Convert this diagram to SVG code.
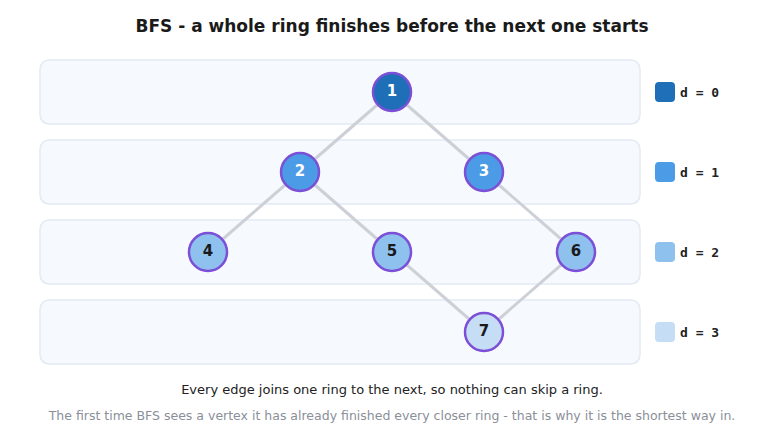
<svg xmlns="http://www.w3.org/2000/svg" width="784" height="440" viewBox="0 0 784 440">
<style>
.band{fill:#f6f9fd;stroke:#e3eaf3;stroke-width:1.5}
.e{stroke:#cdd0d6;stroke-width:3;fill:none}
.n{stroke:#7b4fd6;stroke-width:2.5}
.lbl{font-family:"DejaVu Sans",sans-serif;font-weight:bold;font-size:15px;text-anchor:middle;dominant-baseline:central}
.leg{font-family:"DejaVu Sans Mono",monospace;font-weight:bold;font-size:13px;fill:#222;dominant-baseline:central}
</style>
<rect width="784" height="440" fill="#fff"/>
<text x="392" y="26" font-family="DejaVu Sans,sans-serif" font-weight="bold" font-size="17" fill="#1a1a1a" text-anchor="middle" dominant-baseline="central">BFS  -  a whole ring finishes before the next one starts</text>
<g id="bands">
<rect class="band" x="40" y="60" width="600" height="64" rx="9"/>
<rect class="band" x="40" y="140" width="600" height="64" rx="9"/>
<rect class="band" x="40" y="220" width="600" height="64" rx="9"/>
<rect class="band" x="40" y="300" width="600" height="64" rx="9"/>
</g>
<g id="connectors">
<line class="e" x1="392" y1="92" x2="300" y2="172"/>
<line class="e" x1="392" y1="92" x2="484" y2="172"/>
<line class="e" x1="300" y1="172" x2="208" y2="252"/>
<line class="e" x1="300" y1="172" x2="392" y2="252"/>
<line class="e" x1="484" y1="172" x2="576" y2="252"/>
<line class="e" x1="392" y1="252" x2="484" y2="332"/>
<line class="e" x1="576" y1="252" x2="484" y2="332"/>
</g>
<g id="n1"><circle class="n" cx="392" cy="92" r="19" fill="#1f6fb8"/><text class="lbl" x="392" y="91" fill="#fff">1</text></g>
<g id="n2"><circle class="n" cx="300" cy="172" r="19" fill="#4c9be6"/><text class="lbl" x="300" y="171" fill="#fff">2</text></g>
<g id="n3"><circle class="n" cx="484" cy="172" r="19" fill="#4c9be6"/><text class="lbl" x="484" y="171" fill="#fff">3</text></g>
<g id="n4"><circle class="n" cx="208" cy="252" r="19" fill="#8fc1ef"/><text class="lbl" x="208" y="251" fill="#1a1a1a">4</text></g>
<g id="n5"><circle class="n" cx="392" cy="252" r="19" fill="#8fc1ef"/><text class="lbl" x="392" y="251" fill="#1a1a1a">5</text></g>
<g id="n6"><circle class="n" cx="576" cy="252" r="19" fill="#8fc1ef"/><text class="lbl" x="576" y="251" fill="#1a1a1a">6</text></g>
<g id="n7"><circle class="n" cx="484" cy="332" r="19" fill="#c5def6"/><text class="lbl" x="484" y="331" fill="#1a1a1a">7</text></g>
<g id="legend">
<rect x="655" y="82" width="20" height="20" rx="4" fill="#1f6fb8"/><text class="leg" x="680" y="92">d = 0</text>
<rect x="655" y="162" width="20" height="20" rx="4" fill="#4c9be6"/><text class="leg" x="680" y="172">d = 1</text>
<rect x="655" y="242" width="20" height="20" rx="4" fill="#8fc1ef"/><text class="leg" x="680" y="252">d = 2</text>
<rect x="655" y="322" width="20" height="20" rx="4" fill="#c5def6"/><text class="leg" x="680" y="332">d = 3</text>
</g>
<text x="392" y="389" font-family="DejaVu Sans,sans-serif" font-size="13" fill="#222" text-anchor="middle" dominant-baseline="central">Every edge joins one ring to the next, so nothing can skip a ring.</text>
<text x="392" y="415" font-family="DejaVu Sans,sans-serif" font-size="12.5" fill="#8a8f99" text-anchor="middle" dominant-baseline="central">The first time BFS sees a vertex it has already finished every closer ring - that is why it is the shortest way in.</text>
</svg>
